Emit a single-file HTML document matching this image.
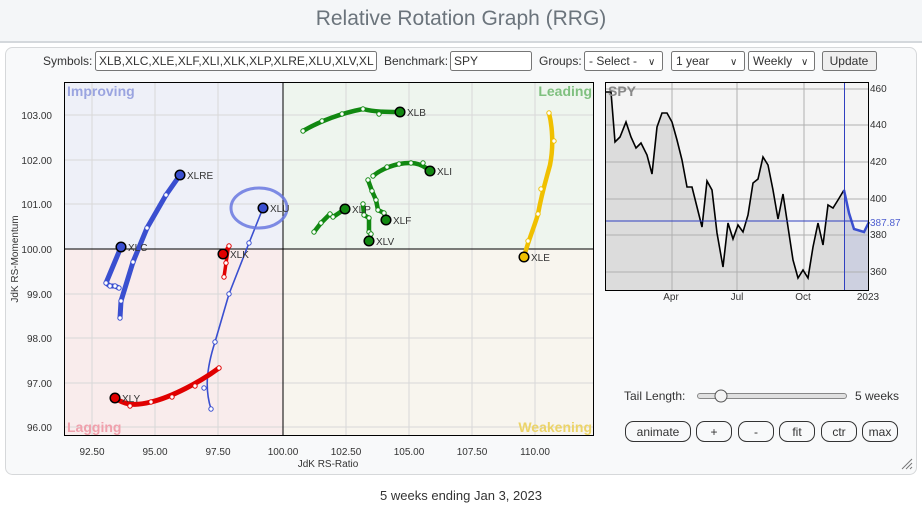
<!DOCTYPE html>
<html><head><meta charset="utf-8"><style>
body{margin:0;background:#fff;width:922px;height:506px;overflow:hidden;font-family:"Liberation Sans",Arial,sans-serif}
svg{display:block}
text{font-family:"Liberation Sans",Arial,sans-serif}
</style></head><body>
<svg width="922" height="506" viewBox="0 0 922 506" xmlns="http://www.w3.org/2000/svg">
<rect x="0" y="0" width="922" height="42" fill="#f4f6f8"/>
<rect x="0" y="41" width="922" height="2" fill="#d4d8dc"/>
<text x="461" y="25" font-size="21" fill="#6b747c" text-anchor="middle">Relative Rotation Graph (RRG)</text>
<rect x="5.5" y="47.5" width="911" height="427" rx="7" fill="#f8f9fa" stroke="#d6d8da"/>
<g font-size="12" fill="#333">
<text x="43" y="65">Symbols:</text>
<rect x="95.5" y="51.5" width="281" height="19" fill="#fff" stroke="#767676" rx="2"/>
<text x="99" y="65">XLB,XLC,XLE,XLF,XLI,XLK,XLP,XLRE,XLU,XLV,XL</text>
<text x="384" y="65">Benchmark:</text>
<rect x="450.5" y="51.5" width="81" height="19" fill="#fff" stroke="#767676" rx="2"/>
<text x="454" y="65">SPY</text>
<text x="539" y="65">Groups:</text>
<rect x="584.5" y="51.5" width="78" height="19" fill="#fff" stroke="#767676" rx="2"/>
<text x="589" y="65">- Select -</text><text x="648" y="65" font-size="10">∨</text>
<rect x="671.5" y="51.5" width="73" height="19" fill="#fff" stroke="#767676" rx="2"/>
<text x="676" y="65">1 year</text><text x="730" y="65" font-size="10">∨</text>
<rect x="748.5" y="51.5" width="66" height="19" fill="#fff" stroke="#767676" rx="2"/>
<text x="753" y="65">Weekly</text><text x="801" y="65" font-size="10">∨</text>
<rect x="822.5" y="51.5" width="54" height="19" fill="#efefef" stroke="#767676" rx="2"/>
<text x="849" y="65" text-anchor="middle">Update</text>
</g>
<rect x="64" y="82" width="219" height="167" fill="#eef0f8"/>
<rect x="283" y="82" width="311" height="167" fill="#eef5ee"/>
<rect x="64" y="249" width="219" height="187" fill="#f9ecec"/>
<rect x="283" y="249" width="311" height="187" fill="#f8f5ee"/>
<g stroke="#d8d8d8" stroke-width="1">
<line x1="92" y1="82" x2="92" y2="436"/><line x1="155" y1="82" x2="155" y2="436"/><line x1="218" y1="82" x2="218" y2="436"/>
<line x1="346" y1="82" x2="346" y2="436"/><line x1="409" y1="82" x2="409" y2="436"/><line x1="472" y1="82" x2="472" y2="436"/><line x1="535" y1="82" x2="535" y2="436"/>
<line x1="64" y1="115" x2="594" y2="115"/><line x1="64" y1="160" x2="594" y2="160"/><line x1="64" y1="204" x2="594" y2="204"/>
<line x1="64" y1="294" x2="594" y2="294"/><line x1="64" y1="338" x2="594" y2="338"/><line x1="64" y1="383" x2="594" y2="383"/><line x1="64" y1="427" x2="594" y2="427"/>
</g>
<line x1="283" y1="82" x2="283" y2="436" stroke="#000"/>
<line x1="64" y1="249" x2="594" y2="249" stroke="#000"/>
<rect x="64.5" y="82.5" width="529" height="353" fill="none" stroke="#000"/>
<g font-size="14" font-weight="bold">
<text x="67" y="96" fill="#9aa4e0">Improving</text>
<text x="592" y="96" fill="#7fc07f" text-anchor="end">Leading</text>
<text x="67" y="432" fill="#f0a0ac">Lagging</text>
<text x="592" y="432" fill="#ecd468" text-anchor="end">Weakening</text>
</g>
<g font-size="10" fill="#333" text-anchor="end">
<text x="52" y="119">103.00</text><text x="52" y="164">102.00</text><text x="52" y="208">101.00</text><text x="52" y="253">100.00</text>
<text x="52" y="298">99.00</text><text x="52" y="342">98.00</text><text x="52" y="387">97.00</text><text x="52" y="431">96.00</text>
</g>
<g font-size="10" fill="#333" text-anchor="middle">
<text x="92" y="455">92.50</text><text x="155" y="455">95.00</text><text x="218" y="455">97.50</text><text x="283" y="455">100.00</text>
<text x="346" y="455">102.50</text><text x="409" y="455">105.00</text><text x="472" y="455">107.50</text><text x="535" y="455">110.00</text>
<text x="328" y="467">JdK RS-Ratio</text>
</g>
<text x="0" y="0" font-size="10" fill="#333" text-anchor="middle" transform="translate(18,259) rotate(-90)">JdK RS-Momentum</text>
<g fill="none" stroke-linecap="round" stroke-linejoin="round">
<polyline points="120,318 121,301 133,262 147,228 166,195 180,175" stroke="#3a4fd0" stroke-width="5"/>
<polyline points="119,288 115,286 110,286 106,283 121,247" stroke="#3a4fd0" stroke-width="5"/>
<path d="M211,409 C205,390 206,370 215,342 L229,294 L249,243 L263,208" stroke="#3a4fd0" stroke-width="1.6"/>
<polyline points="224,277 226,263 228,250 229,246 223,254" stroke="#e00000" stroke-width="3.5"/>
<path d="M219,368 C200,382 172,397 151,402 C135,406 125,405 115,398" stroke="#e00000" stroke-width="5"/>
<path d="M303,131 C320,121 342,113 363,109 C375,112 385,112 400,112" stroke="#118811" stroke-width="4.5"/>
<path d="M373,176 C380,170 390,166 399,164 C410,162 420,162 430,171" stroke="#118811" stroke-width="4.5"/>
<polyline points="368,180 372,191 376,200 378,210 384,213 386,220" stroke="#118811" stroke-width="4.5"/>
<polyline points="314,232 321,223 330,214 333,217 345,209" stroke="#118811" stroke-width="4.5"/>
<polyline points="363,204 364,215 369,218 369,232 371,234 369,241" stroke="#118811" stroke-width="4.5"/>
<path d="M549,113 C552,125 554,145 550,165 C546,180 542,192 538,214 C534,228 528,241 524,257" stroke="#f0c000" stroke-width="4.5"/>
</g>
<g stroke-width="1" fill="#fff">
<g stroke="#3a4fd0"><circle cx="120" cy="318" r="2.2"/><circle cx="121" cy="301" r="2.2"/><circle cx="133" cy="262" r="2.2"/><circle cx="147" cy="228" r="2.2"/><circle cx="166" cy="195" r="2.2"/>
<circle cx="119" cy="288" r="2.2"/><circle cx="115" cy="286" r="2.2"/><circle cx="110" cy="286" r="2.2"/><circle cx="106" cy="283" r="2.2"/>
<circle cx="211" cy="409" r="2.2"/><circle cx="204" cy="388" r="2.2"/><circle cx="215" cy="342" r="2.2"/><circle cx="229" cy="294" r="2.2"/><circle cx="249" cy="243" r="2.2"/></g>
<g stroke="#e00000"><circle cx="224" cy="277" r="2.2"/><circle cx="226" cy="263" r="2.2"/><circle cx="229" cy="246" r="2.2"/>
<circle cx="219" cy="368" r="2.2"/><circle cx="195" cy="386" r="2.2"/><circle cx="172" cy="397" r="2.2"/><circle cx="151" cy="402" r="2.2"/><circle cx="130" cy="406" r="2.2"/></g>
<g stroke="#118811"><circle cx="303" cy="131" r="2.2"/><circle cx="322" cy="121" r="2.2"/><circle cx="342" cy="114" r="2.2"/><circle cx="363" cy="109" r="2.2"/><circle cx="379" cy="114" r="2.2"/>
<circle cx="373" cy="176" r="2.2"/><circle cx="387" cy="167" r="2.2"/><circle cx="399" cy="164" r="2.2"/><circle cx="411" cy="163" r="2.2"/><circle cx="423" cy="163" r="2.2"/>
<circle cx="368" cy="180" r="2.2"/><circle cx="372" cy="191" r="2.2"/><circle cx="376" cy="200" r="2.2"/><circle cx="378" cy="210" r="2.2"/><circle cx="384" cy="213" r="2.2"/>
<circle cx="314" cy="232" r="2.2"/><circle cx="321" cy="223" r="2.2"/><circle cx="330" cy="214" r="2.2"/><circle cx="333" cy="217" r="2.2"/>
<circle cx="363" cy="204" r="2.2"/><circle cx="364" cy="215" r="2.2"/><circle cx="369" cy="218" r="2.2"/><circle cx="369" cy="232" r="2.2"/><circle cx="371" cy="234" r="2.2"/></g>
<g stroke="#f0c000"><circle cx="549" cy="113" r="2.2"/><circle cx="554" cy="141" r="2.2"/><circle cx="541" cy="189" r="2.2"/><circle cx="538" cy="214" r="2.2"/><circle cx="528" cy="241" r="2.2"/></g>
</g>
<ellipse cx="259" cy="208" rx="28" ry="20" fill="none" stroke="#6878e0" stroke-width="3" opacity="0.85"/>
<g stroke="#000" stroke-width="1.5">
<circle cx="180" cy="175" r="4.8" fill="#3a4fd0"/><circle cx="121" cy="247" r="4.8" fill="#3a4fd0"/><circle cx="263" cy="208" r="4.8" fill="#3a4fd0"/>
<circle cx="223" cy="254" r="4.8" fill="#e00000"/><circle cx="115" cy="398" r="4.8" fill="#e00000"/>
<circle cx="400" cy="112" r="4.8" fill="#118811"/><circle cx="430" cy="171" r="4.8" fill="#118811"/><circle cx="386" cy="220" r="4.8" fill="#118811"/>
<circle cx="345" cy="209" r="4.8" fill="#118811"/><circle cx="369" cy="241" r="4.8" fill="#118811"/>
<circle cx="524" cy="257" r="4.8" fill="#f0c000"/>
</g>
<g font-size="10" fill="#333">
<text x="187" y="179">XLRE</text><text x="128" y="251">XLC</text><text x="270" y="212">XLU</text><text x="230" y="258">XLK</text><text x="122" y="402">XLY</text>
<text x="407" y="116">XLB</text><text x="437" y="175">XLI</text><text x="393" y="224">XLF</text><text x="352" y="213">XLP</text><text x="376" y="245">XLV</text><text x="531" y="261">XLE</text>
</g>
<rect x="605" y="82" width="264" height="209" fill="#f4f4f4"/>
<polygon points="605,92 611,92 615,142 620,137 626,122 631,137 636,148 641,143 647,155 652,174 657,127 662,113 667,113 672,122 677,140 682,160 687,187 692,187 697,207 702,227 707,181 712,190 717,233 723,267 728,223 733,239 738,225 743,232 748,215 753,183 758,179 763,157 768,165 773,190 778,219 783,194 788,227 793,260 798,278 803,270 808,278 813,247 818,223 823,245 828,205 833,208 838,200 844,190 844,291 605,291" fill="#dcdcdc"/>
<polygon points="844,190 849,213 854,229 864,232 869,222 869,291 844,291" fill="#cdd0e0"/>
<g stroke="#b0b0b0" stroke-width="1">
<line x1="672" y1="82" x2="672" y2="291"/><line x1="737" y1="82" x2="737" y2="291"/><line x1="804" y1="82" x2="804" y2="291"/>
<line x1="605" y1="89" x2="869" y2="89"/><line x1="605" y1="125" x2="869" y2="125"/><line x1="605" y1="162" x2="869" y2="162"/><line x1="605" y1="199" x2="869" y2="199"/><line x1="605" y1="235" x2="869" y2="235"/><line x1="605" y1="272" x2="869" y2="272"/>
</g>
<polyline points="605,92 611,92 615,142 620,137 626,122 631,137 636,148 641,143 647,155 652,174 657,127 662,113 667,113 672,122 677,140 682,160 687,187 692,187 697,207 702,227 707,181 712,190 717,233 723,267 728,223 733,239 738,225 743,232 748,215 753,183 758,179 763,157 768,165 773,190 778,219 783,194 788,227 793,260 798,278 803,270 808,278 813,247 818,223 823,245 828,205 833,208 838,200 844,190" fill="none" stroke="#000" stroke-width="1.6"/>
<polyline points="844,190 849,213 854,229 864,232 869,222" fill="none" stroke="#3a4fd0" stroke-width="2.5"/>
<line x1="605" y1="221" x2="869" y2="221" stroke="#3040c0" stroke-width="1"/>
<line x1="844.5" y1="82" x2="844.5" y2="291" stroke="#3040c0" stroke-width="1"/>
<rect x="605.5" y="82.5" width="263" height="208" fill="none" stroke="#000"/>
<text x="608" y="96" font-size="14" font-weight="bold" fill="#888">SPY</text>
<g font-size="10" fill="#333">
<text x="870" y="92">460</text><text x="870" y="128">440</text><text x="870" y="165">420</text><text x="870" y="202">400</text><text x="870" y="238">380</text><text x="870" y="275">360</text>
<text x="870" y="226" fill="#5060d0">387.87</text>
</g>
<g font-size="10" fill="#333" text-anchor="middle">
<text x="671" y="300">Apr</text><text x="737" y="300">Jul</text><text x="803" y="300">Oct</text><text x="868" y="300">2023</text>
</g>
<text x="624" y="400" font-size="12" fill="#333">Tail Length:</text>
<rect x="697.5" y="393.5" width="149" height="5" rx="2.5" fill="#e0e0e0" stroke="#888"/>
<circle cx="721" cy="396" r="6" fill="#f4f4f4" stroke="#555"/>
<text x="855" y="400" font-size="12" fill="#333">5 weeks</text>
<g fill="#f8f9fa" stroke="#333" stroke-width="1">
<rect x="625.5" y="421.5" width="65" height="20" rx="8"/><rect x="696.5" y="421.5" width="35" height="20" rx="8"/>
<rect x="738.5" y="421.5" width="35" height="20" rx="8"/><rect x="779.5" y="421.5" width="35" height="20" rx="8"/>
<rect x="821.5" y="421.5" width="35" height="20" rx="8"/><rect x="862.5" y="421.5" width="35" height="20" rx="8"/>
</g>
<g font-size="12" fill="#333" text-anchor="middle">
<text x="658" y="436">animate</text><text x="714" y="436">+</text><text x="756" y="436">-</text><text x="797" y="436">fit</text><text x="839" y="436">ctr</text><text x="880" y="436">max</text>
</g>
<g stroke="#777" stroke-width="1"><line x1="902" y1="469" x2="912" y2="459"/><line x1="906" y1="469" x2="912" y2="463"/><line x1="910" y1="469" x2="912" y2="467"/></g>
<text x="461" y="500" font-size="13" fill="#333" text-anchor="middle">5 weeks ending Jan 3, 2023</text>
</svg>
</body></html>
